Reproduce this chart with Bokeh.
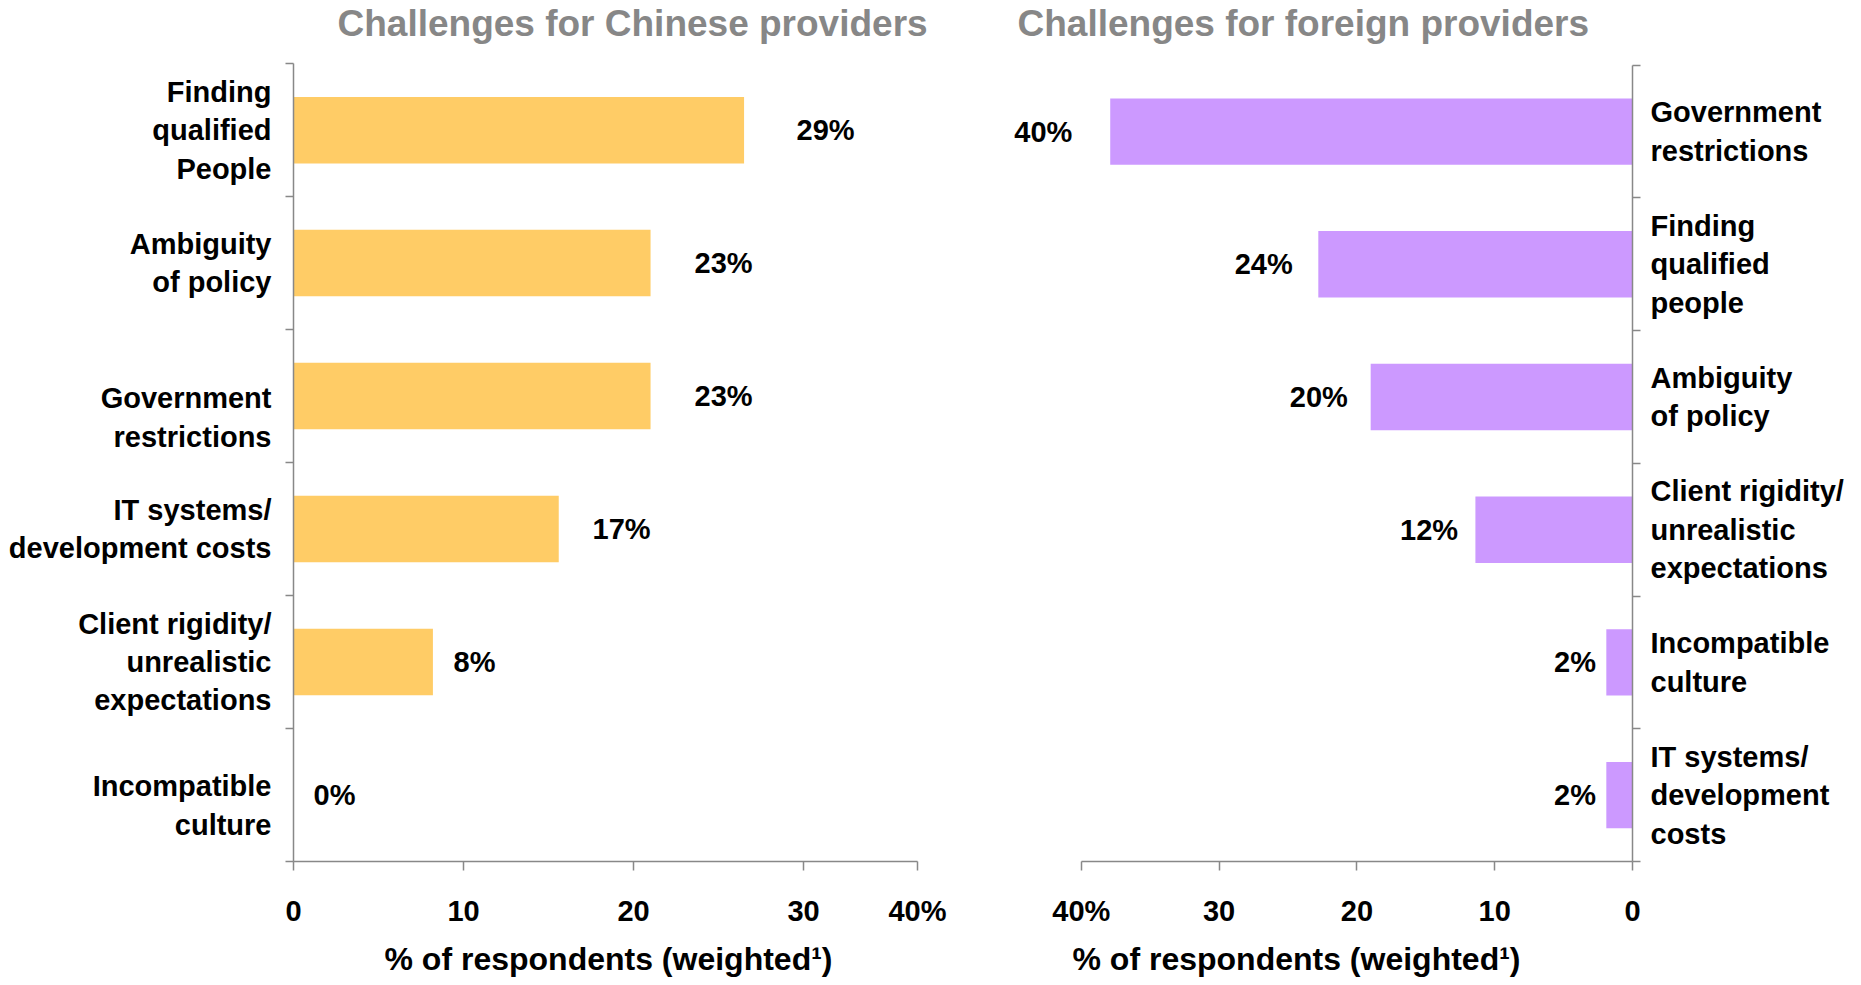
from bokeh.plotting import figure
from bokeh.models import Range1d, FixedTicker, Title, ColumnDataSource
from bokeh.layouts import row
from bokeh.embed import file_html
from bokeh.resources import INLINE
from bokeh.core.properties import value

FONT = "Liberation Sans"

# ---- data: Chinese providers ----
cn_title = "Challenges for Chinese providers"
cn_categories = ["Finding\nqualified\nPeople", "Ambiguity\nof policy", "Government\nrestrictions",
                 "IT systems/\ndevelopment costs", "Client rigidity/\nunrealistic\nexpectations",
                 "Incompatible\nculture"]
cn_bar_values = [26.5, 21.0, 21.0, 15.6, 8.2, 0.0]   # bar lengths read on the drawn axis
cn_pct = [29, 23, 23, 17, 8, 0]                      # printed data labels
cn_ticks = [0, 10, 20, 30, 36.7]
cn_tick_labels = ["0", "10", "20", "30", "40%"]

# ---- data: foreign providers ----
fr_title = "Challenges for foreign providers"
fr_categories = ["Government\nrestrictions", "Finding\nqualified\npeople", "Ambiguity\nof policy",
                 "Client rigidity/\nunrealistic\nexpectations", "Incompatible\nculture",
                 "IT systems/\ndevelopment\ncosts"]
fr_bar_values = [37.9, 22.8, 19.0, 11.4, 1.9, 1.9]
fr_pct = [40, 24, 20, 12, 2, 2]
fr_ticks = [0, 10, 20, 30, 40]
fr_tick_labels = ["0", "10", "20", "30", "40%"]

x_axis_title = "% of respondents (weighted\u00b9)"

# ---- style ----
AXIS_COLOR = "#888888"
TITLE_COLOR = "#878787"
YELLOW = "#FFCC66"
PURPLE = "#CC99FF"
TXT = "29px"
cn_label_shift = [0, 0, 0.16, 0, 0, 0.08]   # small vertical nudges of category labels
fr_label_shift = [0, 0, 0, 0, 0, 0]
cn_value_dx = [10, 10, 10, 10, 24, 20]        # pixel gaps of the value labels
fr_value_dx = [-9, -9, -9, -9, -9, -9]
BAND_PX = 133.3          # height of one category band in pixels
TITLE_CENTER = 23        # page y of the panel titles' vertical centre


def style_common(p):
    p.xgrid.visible = False
    p.ygrid.visible = False
    p.outline_line_color = None
    p.background_fill_color = "white"
    p.border_fill_color = "white"


def style_axes(p, xticks, xlabels, cats, shifts, label_standoff_y):
    n = len(cats)
    xa = p.xaxis[0]
    xa.ticker = FixedTicker(ticks=xticks)
    xa.major_label_overrides = {t: l for t, l in zip(xticks, xlabels)}
    xa.bounds = (min(xticks), max(xticks))
    xa.axis_line_color = AXIS_COLOR
    xa.axis_line_width = 1.5
    xa.major_tick_line_color = AXIS_COLOR
    xa.major_tick_line_width = 1.5
    xa.major_tick_out = 9
    xa.major_tick_in = 0
    xa.minor_tick_line_color = None
    xa.major_label_text_font = FONT
    xa.major_label_text_font_style = "bold"
    xa.major_label_text_font_size = TXT
    xa.major_label_text_color = "black"
    xa.major_label_standoff = 24

    ya = p.yaxis[0]
    label_pos = [i + s for i, s in zip(range(n), shifts)]
    ya.ticker = FixedTicker(ticks=label_pos, minor_ticks=[i - 0.5 for i in range(n + 1)])
    ya.major_label_overrides = {t: c for t, c in zip(label_pos, cats)}
    ya.bounds = (-0.5, n - 0.5)
    ya.axis_line_color = AXIS_COLOR
    ya.axis_line_width = 1.5
    ya.major_tick_line_color = None
    ya.major_tick_out = 0
    ya.major_tick_in = 0
    ya.minor_tick_line_color = AXIS_COLOR
    ya.minor_tick_line_width = 1.5
    ya.minor_tick_out = 8
    ya.minor_tick_in = 0
    ya.major_label_text_font = FONT
    ya.major_label_text_font_style = "bold"
    ya.major_label_text_font_size = TXT
    ya.major_label_text_color = "black"
    ya.major_label_standoff = label_standoff_y


def add_titles(p, top_text, top_x, top_y, bottom_offset):
    # panel title drawn inside the (invisible) upper part of the frame
    p.text(x=[top_x], y=[top_y], text=[top_text], text_font=value(FONT),
           text_font_style="bold", text_font_size="37px", text_color=TITLE_COLOR,
           text_align="left", text_baseline="middle")
    p.add_layout(Title(text=x_axis_title, align="left", offset=bottom_offset, text_font=FONT,
                       text_font_style="bold", text_font_size="32px",
                       text_color="black", standoff=18), "below")


# ---------------- left panel ----------------
n1 = len(cn_categories)
top1 = 63.3                     # page y of the first category band's top edge
ext1 = top1 / BAND_PX           # extra range above the bands for the title
px1 = 624 / cn_ticks[-1]        # pixels per unit on the left x axis
frame_w1 = 950 - 293 - 18
src1 = ColumnDataSource(dict(
    y=list(range(n1)), v=cn_bar_values, pct=cn_pct, dx=cn_value_dx,
    lab=[f"{v}%" for v in cn_pct]))
p1 = figure(width=950, height=985, x_range=Range1d(0, frame_w1 / px1),
            y_range=Range1d(n1 - 0.5, -0.5 - ext1), toolbar_location=None, output_backend="svg",
            min_border_left=293, min_border_right=18, min_border_top=0, min_border_bottom=122)
style_common(p1)
p1.hbar(y="y", left=0, right="v", height=0.5, source=src1, fill_color=YELLOW, line_color=None)
p1.text(x="pct", y="y", text="lab", source=src1, x_offset="dx", text_align="left",
        text_baseline="middle", text_font=value(FONT), text_font_style="bold",
        text_font_size=TXT, text_color="black")
style_axes(p1, cn_ticks, cn_tick_labels, cn_categories, cn_label_shift, 14)
add_titles(p1, cn_title, 44 / px1, -0.5 - (top1 - TITLE_CENTER) / BAND_PX, 91)

# ---------------- right panel ----------------
n2 = len(fr_categories)
top2 = 65.0
ext2 = top2 / BAND_PX
xmax2 = 45.5
src2 = ColumnDataSource(dict(
    y=list(range(n2)), v=fr_bar_values, pct=fr_pct, dx=fr_value_dx,
    lab=[f"{v}%" for v in fr_pct]))
p2 = figure(width=911, height=985, x_range=Range1d(xmax2, 0),
            y_range=Range1d(n2 - 0.5, -0.5 - ext2), y_axis_location="right",
            toolbar_location=None, output_backend="svg",
            min_border_left=55, min_border_right=229, min_border_top=0, min_border_bottom=120)
style_common(p2)
p2.hbar(y="y", left=0, right="v", height=0.5, source=src2, fill_color=PURPLE, line_color=None)
p2.text(x="pct", y="y", text="lab", source=src2, x_offset="dx", text_align="right",
        text_baseline="middle", text_font=value(FONT), text_font_style="bold",
        text_font_size=TXT, text_color="black")
style_axes(p2, fr_ticks, fr_tick_labels, fr_categories, fr_label_shift, 10)
px2 = 627 / xmax2
add_titles(p2, fr_title, xmax2 - 12 / px2, -0.5 - (top2 - TITLE_CENTER) / BAND_PX, 67)

layout = row(p1, p2)
open("out.html", "w").write(file_html(layout, INLINE))
